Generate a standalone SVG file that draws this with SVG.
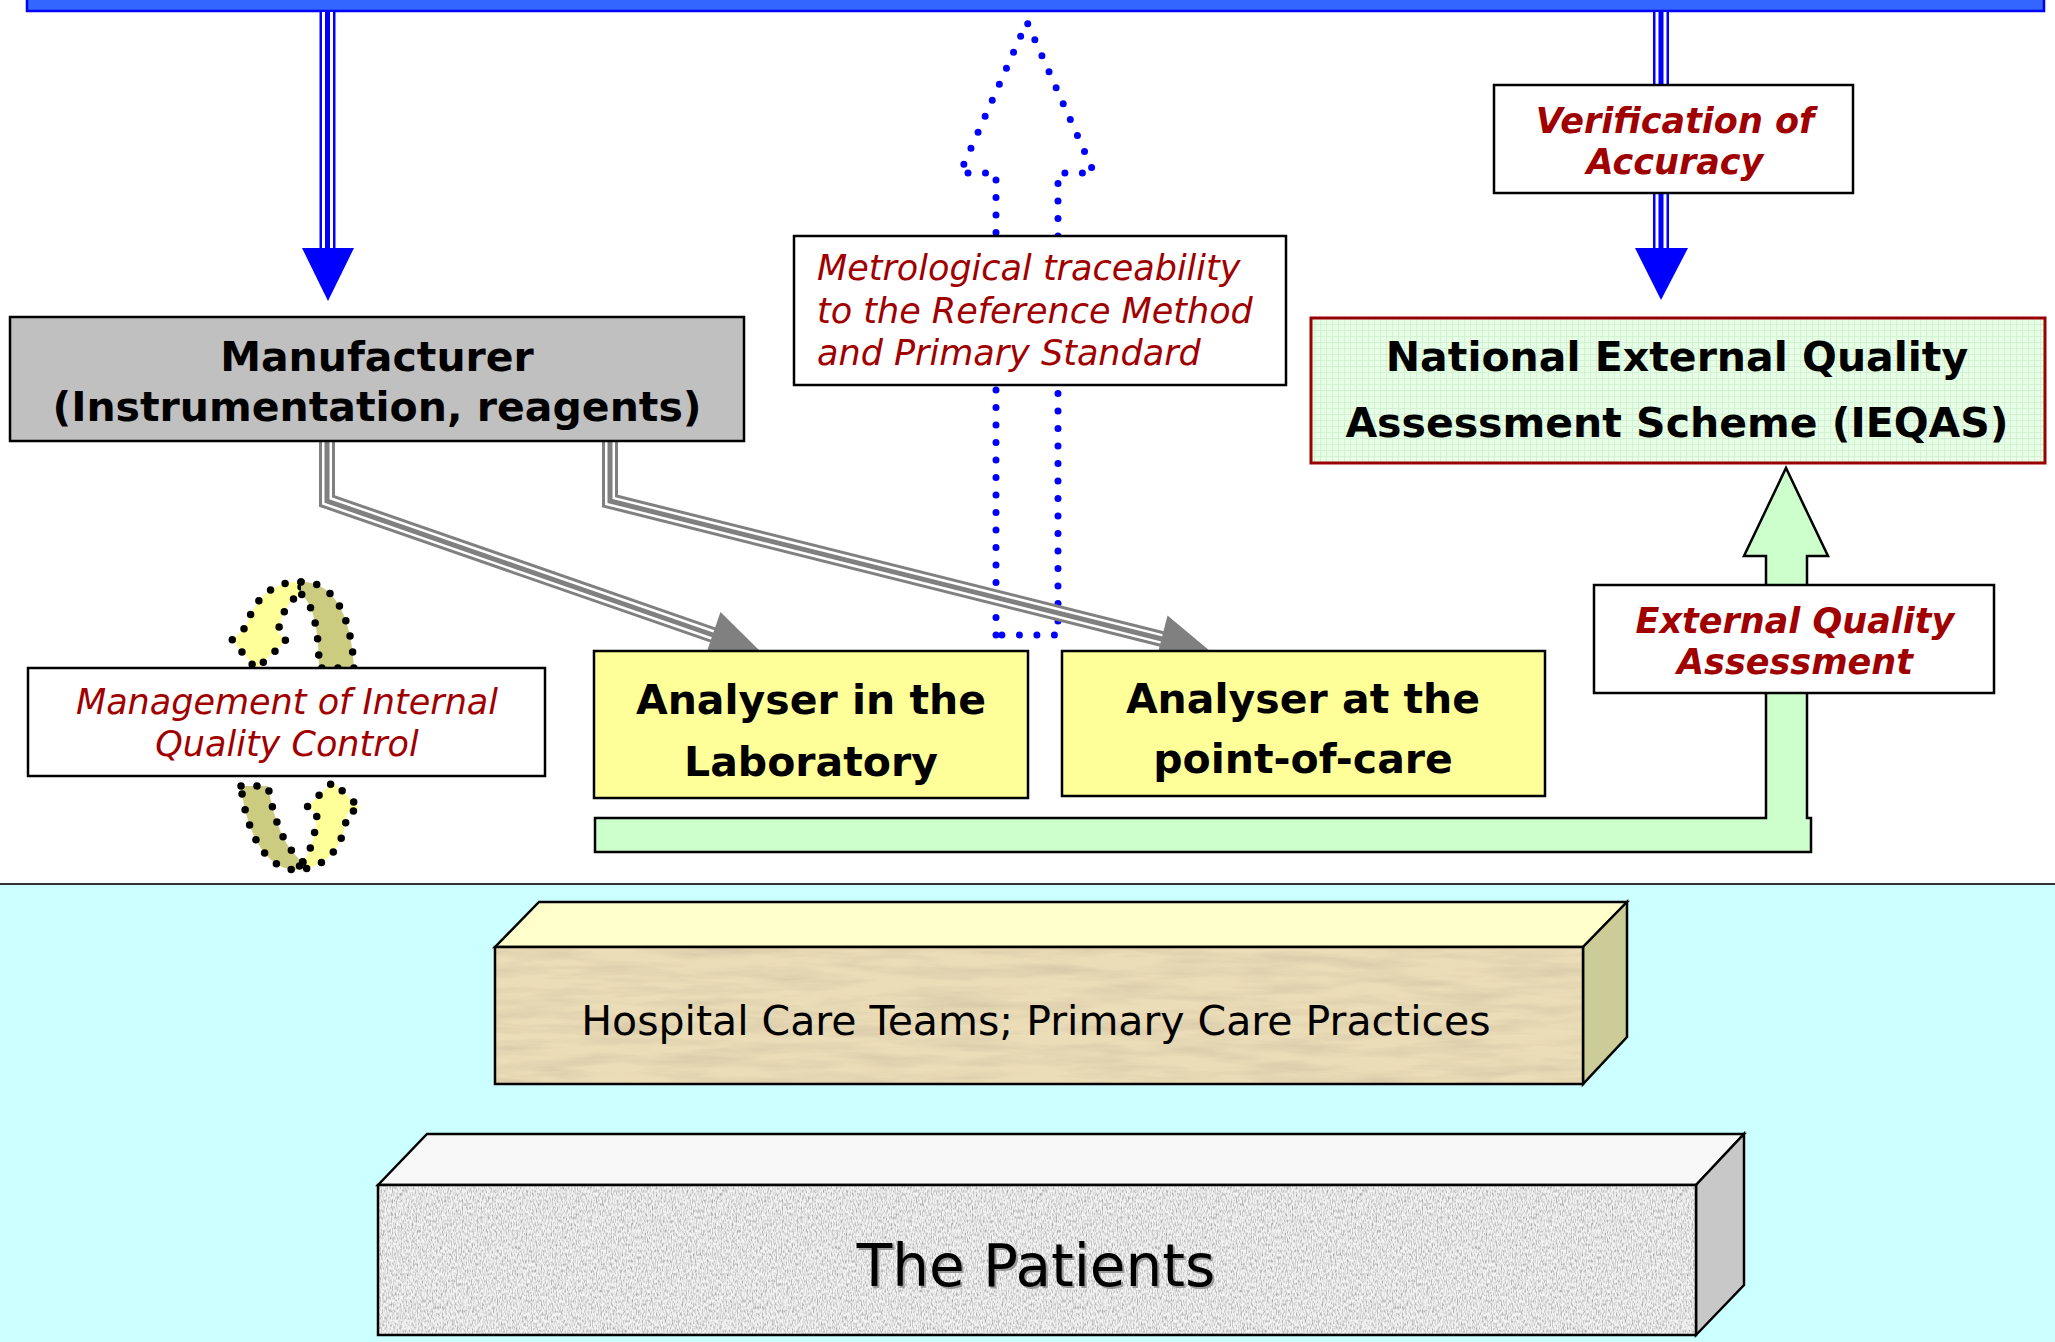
<svg xmlns="http://www.w3.org/2000/svg" width="2055" height="1342" viewBox="0 0 2055 1342">
<defs>
<style>
.box{stroke:#000;stroke-width:2.5}
.bold{font-family:"DejaVu Sans",Verdana,sans-serif;font-weight:bold;font-size:41px;text-anchor:middle;fill:#000}
.red{font-family:"DejaVu Sans",Verdana,sans-serif;font-style:italic;font-size:35px;fill:#A00000}
.redm{text-anchor:middle}
.redb{font-family:"DejaVu Sans",Verdana,sans-serif;font-style:italic;font-weight:bold;font-size:35px;fill:#A00000;text-anchor:middle}
.reg{font-family:"DejaVu Sans",Verdana,sans-serif;fill:#000;text-anchor:middle}
.bdots{fill:none;stroke:#0000FF;stroke-width:7;stroke-dasharray:0 17.5;stroke-linecap:round;stroke-linejoin:round}
.kdots{stroke:#000;stroke-width:7.5;stroke-dasharray:0 16;stroke-linecap:round;stroke-linejoin:round}
.blueO{fill:none;stroke:#0000FF;stroke-width:16}
.blueW{fill:none;stroke:#FFFFFF;stroke-width:11}
.blueI{fill:none;stroke:#0000FF;stroke-width:5}
.grayO{fill:none;stroke:#808080;stroke-width:16;stroke-linejoin:miter}
.grayW{fill:none;stroke:#FFFFFF;stroke-width:10;stroke-linejoin:miter}
.grayI{fill:none;stroke:#808080;stroke-width:5;stroke-linejoin:miter}
</style>
<pattern id="grid" width="6" height="6" patternUnits="userSpaceOnUse">
<rect width="6" height="6" fill="#E6FFE6"/>
<path d="M0,0.5H6M0.5,0V6" stroke="#D2F2D2" stroke-width="1"/>
</pattern>
<filter id="parch" x="0" y="0" width="1" height="1">
<feTurbulence type="fractalNoise" baseFrequency="0.012 0.09" numOctaves="4" seed="7" result="n"/>
<feColorMatrix in="n" type="matrix" values="0 0 0 0 0.66  0 0 0 0 0.56  0 0 0 0 0.38  1.6 0 0 0 -0.6" result="c"/>
<feComposite in="c" in2="SourceGraphic" operator="in" result="cc"/>
<feMerge><feMergeNode in="SourceGraphic"/><feMergeNode in="cc"/></feMerge>
</filter>
<filter id="granite" x="0" y="0" width="1" height="1">
<feTurbulence type="fractalNoise" baseFrequency="0.8 0.3" numOctaves="2" seed="3" result="n"/>
<feColorMatrix in="n" type="matrix" values="2.2 0 0 0 -0.35  2.2 0 0 0 -0.35  2.2 0 0 0 -0.35  0 0 0 0 0.55" result="c"/>
<feComposite in="c" in2="SourceGraphic" operator="in" result="cc"/>
<feMerge><feMergeNode in="SourceGraphic"/><feMergeNode in="cc"/></feMerge>
</filter>
</defs>

<rect x="0" y="0" width="2055" height="1342" fill="#FFFFFF"/>

<g id="patient-zone">
<rect x="0" y="884" width="2055" height="458" fill="#CCFFFF"/>
<line x1="0" y1="884" x2="2055" y2="884" stroke="#333" stroke-width="2"/>
</g>

<g id="top-bar">
<rect x="27" y="-6" width="2017" height="17" fill="#3366FF" stroke="#0000FF" stroke-width="2.5"/>
</g>

<g id="connectors">
<g id="bar-to-manufacturer">
<path class="blueO" d="M327.5,12V249"/><path class="blueW" d="M327.5,12V249"/><path class="blueI" d="M327.5,12V249"/>
<polygon points="302,248 354,248 328,301" fill="#0000FF"/>
</g>
<g id="bar-to-ieqas">
<path class="blueO" d="M1661,12V249"/><path class="blueW" d="M1661,12V249"/><path class="blueI" d="M1661,12V249"/>
<polygon points="1635,248 1688,248 1661,300" fill="#0000FF"/>
</g>
<g id="traceability-arrow">
<path class="bdots" d="M996,635V173H960L1027,22L1094,173H1058V635Z"/>
</g>
<g id="manufacturer-to-lab">
<path class="grayO" d="M327,441V501L713,635"/><path class="grayW" d="M327,441V501L713,635"/><path class="grayI" d="M327,441V501L713,635"/>
<polygon points="705,657 720.5,612 760,651" fill="#808080"/>
</g>
<g id="manufacturer-to-poc">
<path class="grayO" d="M610,441V501L1162,639"/><path class="grayW" d="M610,441V501L1162,639"/><path class="grayI" d="M610,441V501L1162,639"/>
<polygon points="1155.5,662.5 1167.5,615.5 1210,651" fill="#808080"/>
</g>
<g id="analysers-to-ieqas">
<polygon points="595,818 1766,818 1766,556 1744,556 1786,468 1828,556 1807,556 1807,818 1811,818 1811,852 595,852" fill="#CCFFCC" stroke="#000" stroke-width="2.5"/>
</g>
</g>

<g id="manufacturer">
<rect class="box" x="10" y="317" width="734" height="124" fill="#C0C0C0"/>
<text class="bold" x="377" y="371">Manufacturer</text>
<text class="bold" x="377" y="421">(Instrumentation, reagents)</text>
</g>

<g id="traceability-label">
<rect class="box" x="794" y="236" width="492" height="149" fill="#FFFFFF"/>
<text class="red" x="817" y="280">Metrological traceability</text>
<text class="red" x="817" y="323">to the Reference Method</text>
<text class="red" x="817" y="365">and Primary Standard</text>
</g>

<g id="verification-label">
<rect class="box" x="1494" y="85" width="359" height="108" fill="#FFFFFF"/>
<text class="redb" x="1675" y="133">Verification of</text>
<text class="redb" x="1675" y="174">Accuracy</text>
</g>

<g id="ieqas">
<rect x="1311" y="318" width="734" height="145" fill="url(#grid)" stroke="#990000" stroke-width="3"/>
<text class="bold" x="1677" y="371">National External Quality</text>
<text class="bold" x="1677" y="437">Assessment Scheme (IEQAS)</text>
</g>

<g id="analyser-lab">
<rect class="box" x="594" y="651" width="434" height="147" fill="#FFFF99"/>
<text class="bold" x="811" y="714">Analyser in the</text>
<text class="bold" x="811" y="776">Laboratory</text>
</g>

<g id="analyser-poc">
<rect class="box" x="1062" y="651" width="483" height="145" fill="#FFFF99"/>
<text class="bold" x="1303" y="713">Analyser at the</text>
<text class="bold" x="1303" y="773">point-of-care</text>
</g>

<g id="eqa-label">
<rect class="box" x="1594" y="585" width="400" height="108" fill="#FFFFFF"/>
<text class="redb" x="1795" y="633">External Quality</text>
<text class="redb" x="1795" y="674">Assessment</text>
</g>

<g id="iqc-cycle">
<path class="kdots" fill="#FFFF99" d="M301,582C275,581 255,596 246,627L232,640L256,669L286,641L278,632C282,612 289,600 301,594Z"/>
<path class="kdots" fill="#CCCC80" d="M301,582C332,581 351,612 354,668L319,668C319,630 313,603 301,594Z"/>
<path class="kdots" fill="#CCCC80" d="M241,786L268,786C274,820 284,848 303,862L296,870C264,869 246,830 241,786Z"/>
<path class="kdots" fill="#FFFF99" d="M303,862C312,850 316,830 317,813L307,807L333,782L360,808L347,814C344,842 331,868 296,870Z"/>
</g>

<g id="iqc-label">
<rect class="box" x="28" y="668" width="517" height="108" fill="#FFFFFF"/>
<text class="red redm" x="287" y="714">Management of Internal</text>
<text class="red redm" x="287" y="756">Quality Control</text>
</g>

<g id="care-teams">
<polygon points="495,947 539,902 1627,902 1583,947" fill="#FFFFCC" stroke="#000" stroke-width="2.5"/>
<polygon points="1583,947 1627,902 1627,1037 1583,1084" fill="#CCCC99" stroke="#000" stroke-width="2.5"/>
<rect x="495" y="947" width="1088" height="137" fill="#EBDDB8" filter="url(#parch)"/>
<rect x="495" y="947" width="1088" height="137" fill="none" stroke="#000" stroke-width="2.5"/>
<text class="reg" x="1036" y="1035" font-size="41">Hospital Care Teams; Primary Care Practices</text>
</g>

<g id="patients">
<polygon points="378,1185 427,1134 1744,1134 1696,1185" fill="#F8F8F8" stroke="#000" stroke-width="2.5"/>
<polygon points="1696,1185 1744,1134 1744,1285 1696,1335" fill="#C8C8C8" stroke="#000" stroke-width="2.5"/>
<rect x="378" y="1185" width="1318" height="150" fill="#E6E6E6" filter="url(#granite)"/>
<rect x="378" y="1185" width="1318" height="150" fill="none" stroke="#000" stroke-width="2.5"/>
<text class="reg" x="1038" y="1288" font-size="58" style="fill:#9a9a9a">The Patients</text>
<text class="reg" x="1036" y="1286" font-size="58">The Patients</text>
</g>
</svg>
